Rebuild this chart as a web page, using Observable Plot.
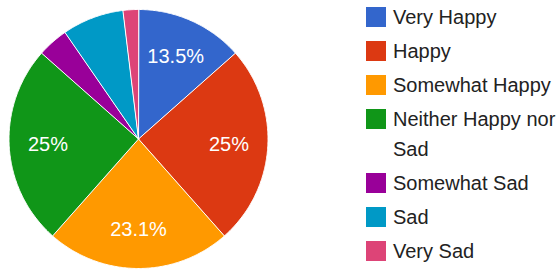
<!DOCTYPE html>
<html>
<head>
<meta charset="utf-8">
<script src="https://cdn.jsdelivr.net/npm/d3@7"></script>
<script src="https://cdn.jsdelivr.net/npm/@observablehq/plot@0.6"></script>
<style>
  html, body { margin: 0; padding: 0; background: #fff; }
  #wrap { position: relative; width: 560px; height: 274px; overflow: hidden; }
  #wrap svg { position: absolute; left: 0; top: 0; overflow: visible; }
  #legend { position: absolute; left: 366px; top: 2px; display: flex; flex-direction: column; gap: 4px;
            font-family: "Liberation Sans", Arial, sans-serif; font-size: 20px; line-height: 30px; color: #222; }
  .item { display: flex; align-items: flex-start; }
  .sw { width: 20px; height: 20px; margin-top: 5px; margin-right: 7px; flex: none; }
  .lab { width: 168px; }
</style>
</head>
<body>
<div id="wrap"><div id="legend"></div></div>
<script>
const categories = ["Very Happy", "Happy", "Somewhat Happy", "Neither Happy nor Sad", "Somewhat Sad", "Sad", "Very Sad"];
const counts = [7, 13, 12, 13, 2, 4, 1];
const colors = ["#3366cc", "#dc3912", "#ff9900", "#109618", "#990099", "#0099c6", "#dd4477"];

const data = categories.map((c, i) => ({category: c, value: counts[i]}));
const total = d3.sum(counts);
const arcs = d3.pie().sort(null).value(d => d.value)(data);

const poly = [];
for (const a of arcs) {
  const c = a.data.category;
  poly.push({category: c, x: 0, y: 0});
  const n = Math.max(2, Math.ceil((a.endAngle - a.startAngle) / 0.01));
  for (let k = 0; k <= n; k++) {
    const t = a.startAngle + (a.endAngle - a.startAngle) * k / n;
    poly.push({category: c, x: Math.sin(t), y: Math.cos(t)});
  }
}
const labelR = 0.7;
const labels = arcs
  .filter(a => a.data.value / total >= 0.1)
  .map(a => {
    const m = (a.startAngle + a.endAngle) / 2;
    return {x: labelR * Math.sin(m), y: labelR * Math.cos(m),
            text: (Math.round(a.data.value / total * 1000) / 10) + "%"};
  });

const chart = Plot.plot({
  width: 560, height: 274,
  marginLeft: 8.5, marginRight: 292.5, marginTop: 9, marginBottom: 6,
  x: {domain: [-1, 1], axis: null},
  y: {domain: [-1, 1], axis: null},
  color: {domain: categories, range: colors},
  style: {fontFamily: "'Liberation Sans', Arial, sans-serif", background: "transparent"},
  marks: [
    Plot.line(poly, {x: "x", y: "y", z: "category", fill: "category", stroke: "white", strokeWidth: 1, curve: "linear-closed"}),
    Plot.text(labels, {x: "x", y: "y", text: "text", fill: "white", fontSize: 20})
  ]
});
document.getElementById("wrap").prepend(chart);

const legend = document.getElementById("legend");
categories.forEach((c, i) => {
  const item = document.createElement("div");
  item.className = "item";
  const sw = document.createElement("div");
  sw.className = "sw";
  sw.style.background = colors[i];
  const lab = document.createElement("div");
  lab.className = "lab";
  lab.textContent = c;
  item.append(sw, lab);
  legend.append(item);
});
</script>
</body>
</html>
